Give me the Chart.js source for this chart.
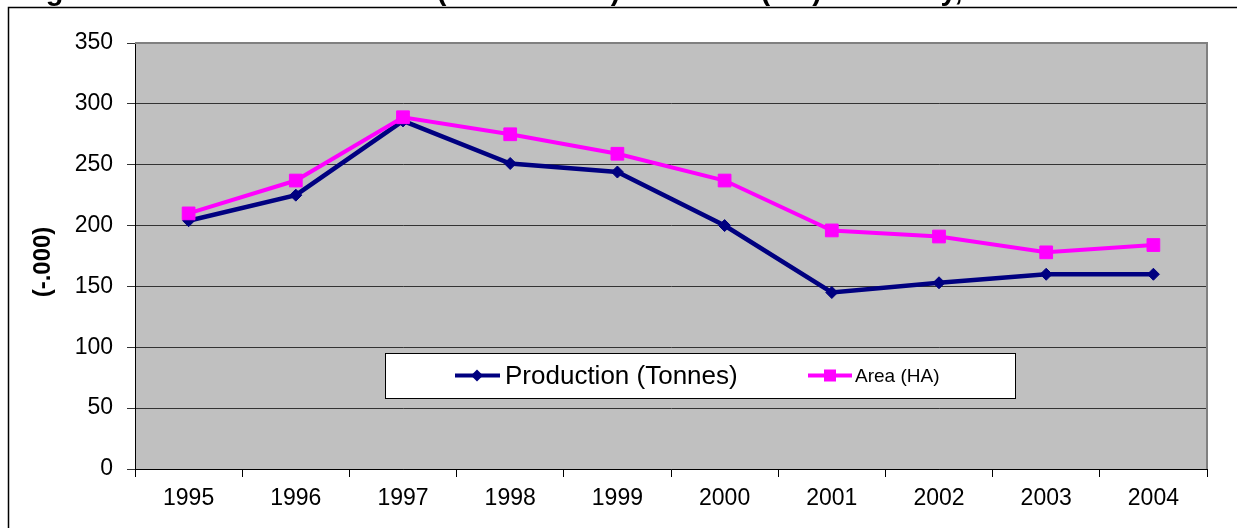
<!DOCTYPE html>
<html>
<head>
<meta charset="utf-8">
<script src="https://cdn.jsdelivr.net/npm/chart.js@4.4.1/dist/chart.umd.min.js"></script>
<style>
html,body{margin:0;padding:0;background:#fff;}
canvas{display:block;}
</style>
</head>
<body>
<canvas id="c" width="1237" height="528"></canvas>
<script>
const years = ['1995','1996','1997','1998','1999','2000','2001','2002','2003','2004'];
const production = [204, 225, 286, 251, 244, 200, 145, 153, 160, 160];
const area = [210, 237, 289, 275, 259, 237, 196, 191, 178, 184];
const yTicks = [0, 50, 100, 150, 200, 250, 300, 350];
const seriesNames = ['Production (Tonnes)', 'Area (HA)'];
const titleText = "Figure 3: Tobacco Production ('000 Tonnes) and Area (HA) in Turkey, 1995-2004";
const yTitle = '(-.000)';

const FONT = "'Liberation Sans', Arial, sans-serif";

const decor = {
  id: 'decor',
  beforeDraw(chart) {
    const {ctx, chartArea: a} = chart;
    ctx.save();
    ctx.fillStyle = '#C0C0C0';
    ctx.fillRect(a.left, a.top, a.right - a.left, a.bottom - a.top);
    ctx.restore();
  },
  afterDraw(chart) {
    const {ctx, chartArea: a} = chart;
    ctx.save();
    // gray top/right plot border
    ctx.strokeStyle = '#808080';
    ctx.lineWidth = 2;
    ctx.beginPath();
    ctx.moveTo(a.left, a.top);
    ctx.lineTo(a.right, a.top);
    ctx.lineTo(a.right, a.bottom);
    ctx.stroke();
    // outer frame
    ctx.strokeStyle = '#000';
    ctx.lineWidth = 1.5;
    ctx.beginPath();
    ctx.moveTo(8.5, chart.height);
    ctx.lineTo(8.5, 7.5);
    ctx.lineTo(chart.width, 7.5);
    ctx.stroke();
    // clipped title
    ctx.fillStyle = '#000';
    ctx.font = 'bold 29px ' + FONT;
    ctx.textAlign = 'left';
    ctx.textBaseline = 'alphabetic';
    ctx.fillText(titleText, 20, -0.4);
    // y title
    ctx.save();
    ctx.translate(43, 262);
    ctx.rotate(-Math.PI / 2);
    ctx.font = 'bold 24px ' + FONT;
    ctx.textAlign = 'center';
    ctx.textBaseline = 'middle';
    ctx.fillText(yTitle, 0, 0);
    ctx.restore();
    // legend
    const lx = a.left + 250, ly = a.top + 310, lw = 630, lh = 45;
    ctx.fillStyle = '#fff';
    ctx.fillRect(lx, ly, lw, lh);
    ctx.strokeStyle = '#000';
    ctx.lineWidth = 1;
    ctx.strokeRect(lx + 0.5, ly + 0.5, lw, lh);
    const cy = ly + lh / 2;
    // production sample
    ctx.strokeStyle = '#000080';
    ctx.lineWidth = 4;
    ctx.beginPath(); ctx.moveTo(lx + 70, cy); ctx.lineTo(lx + 115, cy); ctx.stroke();
    ctx.fillStyle = '#000080';
    ctx.beginPath();
    const dx = lx + 92;
    ctx.moveTo(dx, cy - 6); ctx.lineTo(dx + 6, cy); ctx.lineTo(dx, cy + 6); ctx.lineTo(dx - 6, cy); ctx.closePath(); ctx.fill();
    ctx.fillStyle = '#000';
    ctx.font = '26px ' + FONT;
    ctx.textAlign = 'left';
    ctx.textBaseline = 'middle';
    ctx.fillText(seriesNames[0], lx + 120, cy + 1);
    // area sample
    ctx.strokeStyle = '#FF00FF';
    ctx.beginPath(); ctx.moveTo(lx + 423, cy); ctx.lineTo(lx + 467, cy); ctx.stroke();
    ctx.fillStyle = '#FF00FF';
    ctx.fillRect(lx + 439, cy - 6, 12, 12);
    ctx.fillStyle = '#000';
    ctx.font = '19px ' + FONT;
    ctx.fillText(seriesNames[1], lx + 470, cy + 1);
    ctx.restore();
  }
};

new Chart(document.getElementById('c'), {
  type: 'line',
  data: {
    labels: years,
    datasets: [
      {
        label: seriesNames[0],
        data: production,
        borderColor: '#000080',
        backgroundColor: '#000080',
        borderWidth: 4.5,
        pointStyle: 'rectRot',
        pointRadius: 6,
        pointBackgroundColor: '#000080',
        pointBorderColor: '#000080',
        pointBorderWidth: 1,
        tension: 0,
        order: 1
      },
      {
        label: seriesNames[1],
        data: area,
        borderColor: '#FF00FF',
        backgroundColor: '#FF00FF',
        borderWidth: 4,
        pointStyle: 'rect',
        pointRadius: 9,
        pointBackgroundColor: '#FF00FF',
        pointBorderColor: '#FF00FF',
        pointBorderWidth: 1,
        tension: 0,
        order: 0
      }
    ]
  },
  options: {
    responsive: false,
    animation: false,
    devicePixelRatio: 1,
    layout: { padding: { top: 43, right: 30, left: 0, bottom: 0 } },
    plugins: { legend: { display: false }, tooltip: { enabled: false }, title: { display: false } },
    scales: {
      x: {
        offset: true,
        grid: { display: true, offset: true, drawOnChartArea: false, drawTicks: true, tickLength: 8, color: '#000', lineWidth: 1 },
        border: { display: true, color: '#000', width: 1 },
        ticks: { color: '#000', font: { family: FONT, size: 23 }, padding: 8, maxRotation: 0, autoSkip: false },
        afterFit(s) { s.height = 59; }
      },
      y: {
        min: 0, max: 350,
        afterBuildTicks(s) { s.ticks = yTicks.map(v => ({ value: v })); },
        grid: { color: '#333', lineWidth: 1, tickLength: 8, drawTicks: true },
        border: { display: true, color: '#000', width: 1 },
        ticks: { color: '#000', font: { family: FONT, size: 23 }, padding: 14 },
        afterFit(s) { s.width = 135; }
      }
    }
  },
  plugins: [decor]
});
</script>
</body>
</html>
